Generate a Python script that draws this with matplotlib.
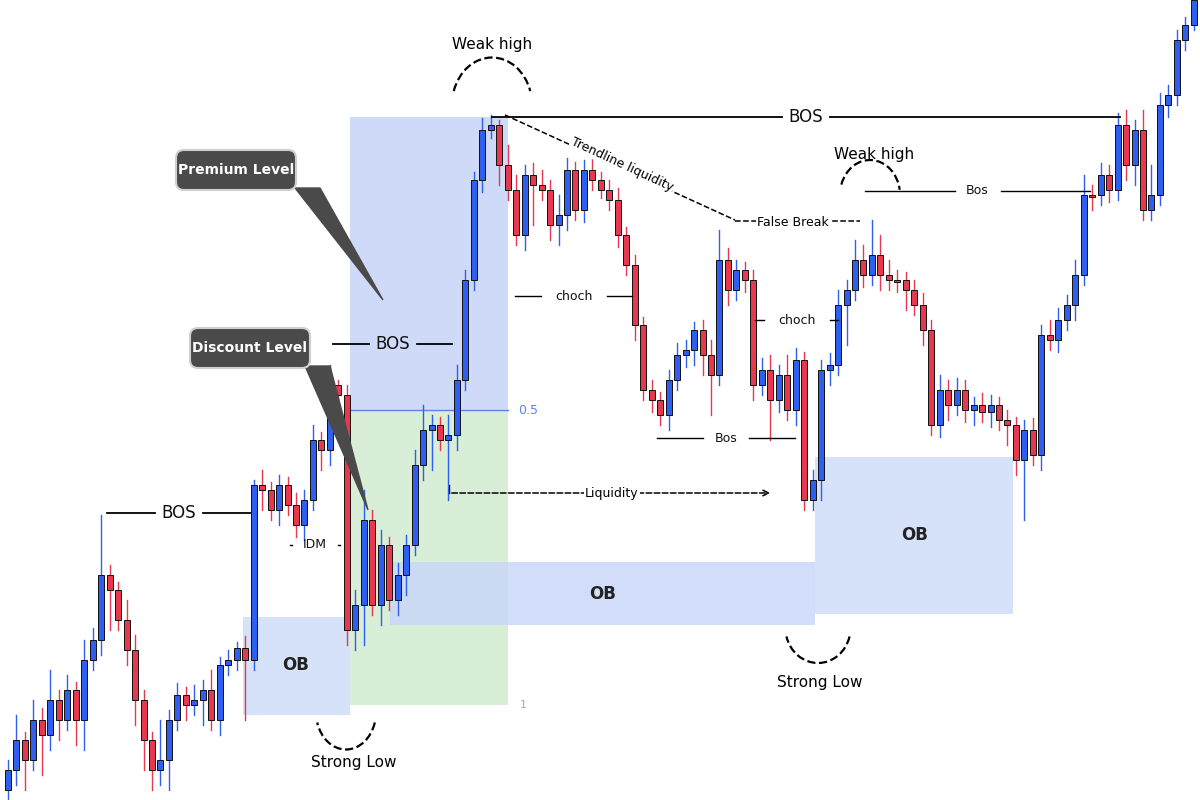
import matplotlib
matplotlib.use("Agg")
import matplotlib.pyplot as plt
from matplotlib.patches import Rectangle, Arc, FancyBboxPatch, Polygon

# price expressed in chart pixel units (y axis inverted, 0 = top)
first_open = 790
closes = [770,740,760,720,735,700,720,690,720,660,640,575,590,620,650,700,740,770,760,720,
          695,705,700,690,720,665,660,648,660,485,490,510,485,505,525,500,440,450,385,395,
          630,605,520,605,545,600,575,545,465,430,425,440,435,380,280,180,130,125,165,190,
          235,175,185,190,225,215,170,210,170,180,190,200,235,265,325,390,400,415,380,355,
          350,330,355,375,260,290,270,280,385,370,400,375,410,360,500,480,370,365,305,290,
          260,275,255,275,280,280,290,305,330,425,390,405,390,410,405,412,405,420,425,460,
          430,455,335,340,320,305,275,195,195,175,190,125,165,130,210,195,105,95,40,25,0]
wick_up = [10,25,8,20,12,30,10,15,8,20,12,60,10,8,20,15,10,8,40,10,
           12,8,15,10,20,8,10,6,12,5,15,8,10,8,12,10,15,8,20,5,
           10,15,30,10,15,8,12,10,15,25,10,8,20,15,10,8,12,10,5,20,
           15,10,12,15,10,20,12,8,10,15,8,10,12,8,10,8,10,8,10,12,
           10,8,10,15,30,12,10,8,10,12,15,10,20,12,8,10,10,12,15,10,
           20,15,35,20,15,10,8,10,12,10,15,10,12,10,8,12,10,8,10,8,
           10,12,10,15,12,10,15,20,10,12,10,12,15,10,20,30,12,10,10,8,5]
wick_dn = [20,15,30,10,40,15,20,10,25,30,10,15,40,10,15,25,30,20,15,30,
           10,15,10,25,10,15,10,10,60,10,20,10,15,10,12,15,10,20,15,10,
           15,20,40,10,20,10,15,20,10,15,40,10,60,15,10,10,12,8,20,10,
           10,15,40,10,15,20,15,10,12,10,8,10,12,10,15,10,12,10,15,10,
           12,15,20,40,10,15,10,12,15,10,40,12,10,15,10,10,20,15,10,40,
           10,12,10,15,10,12,20,10,15,10,12,15,10,12,15,10,15,10,20,15,
           60,10,15,10,12,10,15,10,15,10,12,10,15,20,10,10,10,12,10,10,5]
x0, dx = 8, 8.47

zones = [  # x0, x1, ytop, ybot, color
    (350, 508, 117, 410, "#c7d4f8"),
    (350, 508, 410, 705, "#d3ebd1"),
    (243, 350, 617, 715, "#cfdcfa"),
    (390, 815, 562, 625, "#c9d7f8"),
    (815, 1013, 457, 614, "#cfdcfa"),
]
ob_labels = [(296, 665), (603, 594), (915, 535)]
levels = [  # y, x1, x2, label, size
    (513, 107, 250, "BOS", 12), (344, 333, 452, "BOS", 12), (117, 492, 1120, "BOS", 12),
    (191, 865, 1090, "Bos", 9), (296, 515, 632, "choch", 9), (320, 755, 838, "choch", 9),
    (438, 657, 795, "Bos", 9), (545, 290, 340, "IDM", 9)]

fig = plt.figure(figsize=(12, 8), dpi=100)
ax = fig.add_axes([0, 0, 1, 1])
ax.set_xlim(0, 1200); ax.set_ylim(800, 0); ax.axis("off")

for (a, b, t, bo, c) in zones:
    ax.add_patch(Rectangle((a, t), b - a, bo - t, color=c, alpha=0.85, zorder=1, lw=0))
ax.plot([350, 508], [410, 410], color="#5b82f0", lw=1, zorder=2)
ax.text(518, 410, "0.5", color="#5b82f0", fontsize=9, va="center")
ax.text(520, 705, "1", color="#aaaaaa", fontsize=8, va="center")
for (x, y) in ob_labels:
    ax.text(x, y, "OB", fontsize=12, fontweight="bold", ha="center", va="center", color="#222", zorder=6)

prev = first_open
for i, c in enumerate(closes):
    o = prev; x = x0 + i * dx
    up = c < o
    col = "#2f5ff0" if up else "#e8384f"
    hi = min(o, c) - wick_up[i]; lo = max(o, c) + wick_dn[i]
    ax.plot([x, x], [hi, lo], color=col, lw=1, zorder=3)
    h = max(abs(o - c), 1.5)
    ax.add_patch(Rectangle((x - 3, min(o, c)), 6, h, facecolor=col, edgecolor="#111", lw=0.7, zorder=4))
    prev = c

for (y, a, b, lab, s) in levels:
    w = 24 if s > 10 else (len(lab) * 5 + 8)
    m = (a + b) / 2
    ax.plot([a, m - w], [y, y], color="black", lw=1.3 if s > 10 else 1, zorder=5)
    ax.plot([m + w, b], [y, y], color="black", lw=1.3 if s > 10 else 1, zorder=5)
    ax.text(m, y, lab, fontsize=s, ha="center", va="center", color="#111", zorder=6)

# liquidity arrow
ax.annotate("", xy=(773, 493), xytext=(449, 493),
            arrowprops=dict(arrowstyle="->", ls="--", color="black", lw=1.1), zorder=5)
ax.plot([449, 449], [485, 493], color="black", lw=1)
ax.text(612, 493, "Liquidity", fontsize=9, ha="center", va="center",
        bbox=dict(fc="white", ec="none", pad=1), zorder=6)
# trendline liquidity
ax.plot([505, 735], [115, 220], ls="--", color="black", lw=1.1, zorder=5)
ax.text(622, 165, "Trendline liquidity", fontsize=9, rotation=-25, ha="center", va="center",
        bbox=dict(fc="white", ec="none", pad=0.5), zorder=6)
ax.plot([735, 860], [221, 221], ls="--", color="black", lw=1.1, zorder=5)
ax.text(793, 222, "False Break", fontsize=9, ha="center", va="center",
        bbox=dict(fc="white", ec="none", pad=1), zorder=6)

# arcs
ax.add_patch(Arc((492, 105), 80, 95, theta1=200, theta2=340, ls="--", lw=1.6, color="black", zorder=6))
ax.text(492, 45, "Weak high", fontsize=11, ha="center", va="center")
ax.add_patch(Arc((870, 195), 60, 70, theta1=200, theta2=350, ls="--", lw=1.6, color="black", zorder=6))
ax.text(874, 155, "Weak high", fontsize=11, ha="center", va="center")
ax.add_patch(Arc((346, 712), 60, 75, theta1=20, theta2=160, ls="--", lw=1.6, color="black", zorder=6))
ax.text(354, 763, "Strong Low", fontsize=11, ha="center", va="center")
ax.add_patch(Arc((818, 628), 65, 70, theta1=15, theta2=165, ls="--", lw=1.6, color="black", zorder=6))
ax.text(820, 683, "Strong Low", fontsize=11, ha="center", va="center")

# callouts
for (cx, cy, txt, tip, base) in [(236, 170, "Premium Level", (383, 300), [(295, 188), (320, 188)]),
                                 (250, 348, "Discount Level", (368, 510), [(305, 366), (330, 366)])]:
    ax.add_patch(Polygon([base[0], base[1], tip], closed=True, color="#4a4a4a", zorder=7))
    ax.add_patch(FancyBboxPatch((cx - 60, cy - 20), 120, 40, boxstyle="round,pad=0,rounding_size=8",
                                fc="#4a4a4a", ec="#d0d0d0", lw=1.5, zorder=8))
    ax.text(cx, cy, txt, color="white", fontsize=10, fontweight="bold", ha="center", va="center", zorder=9)

fig.savefig("out.png", dpi=100)
